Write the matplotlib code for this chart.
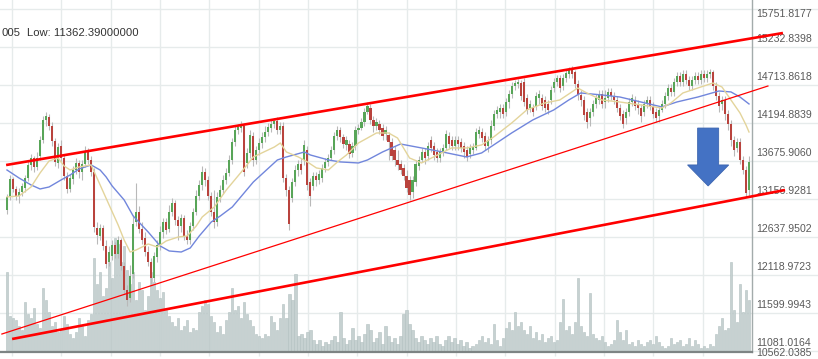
import matplotlib
matplotlib.use("Agg")
import matplotlib.pyplot as plt
import matplotlib.patches as mpatches
from matplotlib.transforms import blended_transform_factory, offset_copy
import numpy as np

# daily candles
opens = [13007, 13185, 13430, 13294, 13198, 13253, 13308, 13444, 13622, 13717,
         13594, 13745, 13963, 14236, 14277, 14154, 13949, 13649, 13881, 13717,
         13471, 13294, 13430, 13553, 13649, 13526, 13635, 13813, 13690, 13526,
         12761, 12652, 12761, 12515, 12297, 12379, 12529, 12406, 12597, 12242,
         11914, 11805, 12133, 12843, 12980, 12747, 12624, 12433, 12297, 12078,
         12365, 12529, 12706, 12843, 12747, 12980, 13103, 12870, 12788, 12898,
         12652, 12597, 12788, 12980, 13198, 13349, 13526, 13417, 13198, 12980,
         12843, 13185, 13280, 13417, 13512, 13690, 13936, 14100, 14127, 14154,
         13649, 13786, 14018, 13690, 13826, 13922, 14004, 14072, 14127, 14182,
         14222, 14100, 14154, 13444, 13280, 13171, 13389, 13553, 13635, 13690,
         13826, 13389, 13335, 13471, 13417, 13444, 13581, 13663, 13717, 13826,
         14018, 14100, 14004, 13895, 13908, 13786, 13881, 14100, 14127, 14209,
         14345, 14400, 14236, 14154, 14182, 14127, 14045, 14031, 13936, 13826,
         13690, 13635, 13581, 13471, 13417, 13253, 13389, 13608, 13690, 13799,
         13745, 13963, 13881, 13799, 13717, 13799, 13854, 14018, 13963, 13881,
         13963, 13936, 13881, 13826, 13772, 13826, 13854, 14045, 14072, 14018,
         13881, 13963, 14154, 14318, 14345, 14400, 14345, 14482, 14591, 14700,
         14728, 14741, 14755, 14537, 14400, 14414, 14427, 14537, 14537, 14509,
         14455, 14509, 14673, 14755, 14810, 14700, 14810, 14864, 14919, 14891,
         14728, 14578, 14509, 14345, 14263, 14345, 14455, 14509, 14591, 14482,
         14537, 14619, 14564, 14509, 14400, 14318, 14263, 14345, 14482, 14509,
         14455, 14400, 14345, 14455, 14509, 14427, 14345, 14291, 14373, 14455,
         14564, 14673, 14619, 14755, 14837, 14755, 14864, 14782, 14700, 14782,
         14837, 14782, 14864, 14810, 14864, 14891, 14700, 14564, 14455, 14509,
         14318, 14182, 13963, 13854, 13936, 13690, 13553, 13280]
highs = [13226, 13485, 13458, 13335, 13308, 13376, 13485, 13690, 13772, 13745,
         13799, 14018, 14291, 14345, 14318, 14209, 13990, 13922, 13963, 13758,
         13526, 13499, 13608, 13717, 13690, 13690, 13881, 13854, 13745, 13581,
         12843, 12816, 12802, 12597, 12515, 12597, 12570, 12652, 12624, 12297,
         11983, 12256, 12939, 13376, 13062, 12843, 12706, 12515, 12352, 12433,
         12597, 12788, 12898, 12898, 13075, 13171, 13144, 12925, 12952, 12939,
         12734, 12843, 13034, 13280, 13417, 13608, 13581, 13471, 13253, 13280,
         13253, 13349, 13485, 13581, 13758, 13990, 14154, 14182, 14222, 14195,
         13854, 14100, 14072, 13881, 13990, 14072, 14154, 14195, 14236, 14263,
         14277, 14209, 14209, 13499, 13335, 13444, 13622, 13690, 13717, 13963,
         13881, 13444, 13526, 13526, 13553, 13635, 13717, 13772, 13881, 14072,
         14154, 14141, 14045, 14018, 13963, 13936, 14154, 14182, 14263, 14400,
         14482, 14455, 14291, 14263, 14236, 14182, 14154, 14072, 13990, 13881,
         13826, 13690, 13635, 13553, 13471, 13471, 13690, 13745, 13854, 13854,
         13936, 14018, 13936, 13854, 13854, 13908, 14100, 14072, 14018, 14018,
         14018, 13990, 13936, 13881, 13908, 13922, 14127, 14154, 14127, 14072,
         14018, 14236, 14373, 14427, 14455, 14455, 14537, 14646, 14755, 14782,
         14796, 14782, 14810, 14591, 14509, 14455, 14619, 14646, 14591, 14564,
         14509, 14700, 14810, 14851, 14851, 14864, 14919, 14960, 14973, 14919,
         14782, 14646, 14564, 14400, 14400, 14509, 14591, 14646, 14646, 14646,
         14673, 14673, 14619, 14564, 14455, 14373, 14400, 14537, 14591, 14564,
         14509, 14455, 14509, 14564, 14564, 14482, 14400, 14427, 14509, 14619,
         14728, 14728, 14810, 14891, 14891, 14919, 14919, 14837, 14837, 14891,
         14891, 14919, 14919, 14919, 14932, 14919, 14755, 14619, 14564, 14564,
         14373, 14236, 14018, 13990, 13990, 13745, 13608, 13745]
lows = [12952, 13144, 13253, 13144, 13103, 13198, 13253, 13403, 13553, 13526,
        13553, 13690, 13922, 14154, 14100, 13881, 13608, 13581, 13663, 13417,
        13239, 13253, 13362, 13499, 13444, 13417, 13594, 13635, 13471, 12706,
        12543, 12597, 12461, 12215, 12242, 12324, 12352, 12352, 12188, 11860,
        11696, 11751, 12078, 12788, 12693, 12543, 12379, 12242, 11996, 12024,
        12297, 12461, 12624, 12679, 12706, 12925, 12802, 12597, 12706, 12597,
        12543, 12543, 12734, 12939, 13144, 13280, 13335, 13144, 12925, 12761,
        12788, 13116, 13226, 13362, 13471, 13635, 13881, 14045, 14072, 13471,
        13581, 13717, 13608, 13635, 13758, 13854, 13936, 14018, 14072, 14127,
        14045, 14045, 13389, 13198, 12734, 13116, 13335, 13471, 13499, 13622,
        13280, 13062, 13280, 13335, 13362, 13389, 13526, 13608, 13690, 13772,
        13963, 13936, 13854, 13826, 13717, 13731, 13826, 14045, 14100, 14154,
        14318, 14182, 14072, 14100, 14045, 13963, 13963, 13690, 13690, 13608,
        13553, 13499, 13417, 13253, 13144, 13171, 13335, 13553, 13663, 13635,
        13690, 13799, 13690, 13663, 13663, 13745, 13826, 13854, 13826, 13826,
        13826, 13799, 13717, 13676, 13717, 13772, 13826, 13990, 13936, 13826,
        13799, 13908, 14100, 14263, 14263, 14263, 14291, 14400, 14537, 14646,
        14673, 14509, 14427, 14318, 14345, 14291, 14373, 14455, 14373, 14345,
        14318, 14455, 14619, 14700, 14619, 14646, 14755, 14810, 14810, 14673,
        14509, 14427, 14236, 14127, 14154, 14291, 14400, 14455, 14400, 14400,
        14482, 14509, 14455, 14345, 14236, 14127, 14182, 14291, 14427, 14373,
        14318, 14209, 14291, 14400, 14373, 14263, 14209, 14209, 14345, 14400,
        14509, 14564, 14564, 14700, 14700, 14700, 14728, 14646, 14646, 14728,
        14728, 14728, 14755, 14755, 14810, 14646, 14509, 14345, 14373, 14236,
        14100, 13881, 13745, 13799, 13635, 13499, 13185, 13198]
closes = [13185, 13430, 13294, 13198, 13253, 13335, 13444, 13622, 13717, 13594,
          13717, 13963, 14236, 14291, 14154, 13949, 13663, 13867, 13717, 13471,
          13294, 13444, 13553, 13649, 13526, 13635, 13813, 13690, 13526, 12775,
          12666, 12761, 12515, 12270, 12433, 12529, 12406, 12597, 12242, 11914,
          11778, 12106, 12816, 12980, 12747, 12597, 12433, 12297, 12078, 12379,
          12529, 12706, 12843, 12734, 12980, 13103, 12870, 12788, 12898, 12652,
          12597, 12788, 12980, 13198, 13349, 13526, 13417, 13198, 12980, 12843,
          13185, 13280, 13417, 13512, 13690, 13936, 14100, 14141, 14182, 13526,
          13786, 14031, 13690, 13826, 13922, 14004, 14072, 14141, 14182, 14222,
          14100, 14154, 13444, 13280, 12816, 13389, 13553, 13635, 13553, 13895,
          13349, 13198, 13471, 13417, 13499, 13581, 13663, 13717, 13826, 14018,
          14100, 14004, 13908, 13963, 13772, 13881, 14100, 14127, 14209, 14345,
          14427, 14236, 14154, 14209, 14100, 14018, 14100, 13936, 13745, 13690,
          13622, 13553, 13471, 13308, 13212, 13417, 13635, 13690, 13799, 13717,
          13881, 13854, 13758, 13717, 13799, 13854, 14045, 13908, 13881, 13963,
          13908, 13854, 13799, 13731, 13854, 13867, 14072, 14100, 13990, 13881,
          13963, 14154, 14318, 14373, 14400, 14318, 14482, 14591, 14700, 14741,
          14755, 14564, 14482, 14373, 14455, 14345, 14564, 14591, 14427, 14400,
          14373, 14646, 14755, 14810, 14673, 14810, 14878, 14919, 14864, 14728,
          14578, 14509, 14304, 14209, 14345, 14455, 14537, 14591, 14455, 14537,
          14619, 14564, 14509, 14400, 14291, 14182, 14345, 14482, 14537, 14427,
          14400, 14291, 14455, 14509, 14427, 14318, 14263, 14373, 14455, 14564,
          14673, 14619, 14755, 14837, 14755, 14864, 14782, 14700, 14782, 14837,
          14782, 14864, 14810, 14864, 14891, 14700, 14564, 14427, 14509, 14318,
          14182, 13963, 13826, 13936, 13690, 13553, 13239, 13663]
volume = [80, 36, 34, 32, 26, 22, 50, 38, 34, 44,
          28, 24, 64, 52, 40, 26, 30, 20, 22, 36,
          28, 18, 14, 20, 34, 26, 16, 32, 38, 94,
          68, 80, 56, 64, 90, 74, 114, 108, 90, 106,
          82, 68, 80, 52, 70, 62, 42, 56, 80, 70,
          62, 54, 60, 42, 36, 30, 26, 34, 22, 26,
          32, 20, 24, 22, 40, 46, 52, 48, 36, 30,
          20, 26, 18, 32, 40, 64, 42, 46, 34, 50,
          38, 32, 26, 18, 16, 14, 18, 16, 36, 30,
          22, 34, 48, 34, 58, 52, 78, 16, 18, 14,
          20, 22, 12, 8, 12, 6, 10, 8, 12, 16,
          10, 40, 14, 8, 12, 24, 12, 16, 10, 18,
          28, 22, 10, 14, 20, 8, 26, 16, 10, 14,
          8, 16, 38, 42, 28, 22, 14, 10, 16, 12,
          8, 14, 10, 16, 8, 6, 12, 16, 10, 14,
          8, 12, 6, 10, 4, 6, 8, 12, 16, 10,
          14, 8, 28, 12, 6, 14, 24, 30, 22, 40,
          26, 30, 22, 18, 26, 14, 20, 12, 18, 10,
          14, 16, 10, 12, 30, 53, 22, 26, 18, 30,
          74, 26, 20, 16, 59, 18, 14, 12, 16, 10,
          6, 8, 12, 32, 20, 12, 22, 8, 10, 6,
          12, 8, 6, 10, 12, 8, 16, 10, 6, 4,
          6, 14, 8, 10, 12, 6, 8, 14, 6, 12,
          8, 4, 6, 4, 8, 6, 18, 26, 34, 22,
          24, 90, 42, 30, 68, 40, 62, 52]

# moving averages as drawn (candle index, price)
slow_idx = [0, 4, 8, 11, 14, 18, 21, 24, 28, 31, 33, 35, 39, 42, 47, 51, 54, 58, 61, 64,
            68, 71, 75, 82, 90, 93, 99, 101, 107, 111, 117, 120, 125, 131, 138, 145, 153,
            158, 162, 168, 175, 182, 187, 191, 198, 204, 211, 218, 223, 230, 237, 241, 244, 247]
slow_ma = [13553, 13444, 13349, 13294, 13321, 13417, 13485, 13567, 13622, 13553, 13458,
           13335, 13144, 12925, 12706, 12515, 12447, 12433, 12488, 12652, 12843, 12925,
           13048, 13389, 13690, 13731, 13799, 13758, 13690, 13663, 13649, 13690, 13799,
           13908, 13854, 13799, 13731, 13786, 13895, 14059, 14236, 14373, 14509, 14605,
           14578, 14550, 14482, 14414, 14482, 14550, 14632, 14619, 14550, 14455]
fast_idx = [0, 4, 8, 11, 14, 17, 19, 21, 24, 28, 31, 34, 37, 39, 41, 43, 47, 50, 53, 57,
            60, 63, 65, 69, 73, 78, 82, 89, 91, 93, 97, 100, 103, 107, 110, 113, 117, 120,
            123, 127, 130, 131, 134, 138, 142, 148, 153, 158, 162, 168, 173, 179, 184, 190,
            193, 198, 204, 211, 218, 221, 225, 231, 235, 238, 241, 244, 246, 247]
fast_ma = [13185, 13198, 13321, 13512, 13676, 13717, 13608, 13553, 13594, 13622, 13349,
           13075, 12802, 12597, 12433, 12461, 12543, 12502, 12584, 12638, 12652, 12788,
           12912, 13048, 13280, 13526, 13731, 13867, 13922, 13799, 13731, 13663, 13581,
           13553, 13663, 13758, 13922, 13990, 14059, 14059, 13990, 13922, 13717, 13649,
           13731, 13854, 13854, 13895, 14004, 14195, 14373, 14468, 14509, 14673, 14605,
           14509, 14482, 14441, 14400, 14468, 14605, 14687, 14741, 14687, 14509, 14332,
           14168, 14072]

price_ticks = [11081.0164, 11599.9943, 12118.9723, 12637.9502, 13156.9281,
               13675.9060, 14194.8839, 14713.8618, 15232.8398]
top_tick = 15751.8177
cut_tick = "10562.0385"

# hand drawn trend lines (candle index, price)
upper_x, upper_y = [-0.3, 258.3], [13621, 15424]
channel_x, channel_y = [-1.7, 253.3], [11313, 14700]
support_x, support_y = [1.7, 259.0], [11245, 13280]

arrow_x, arrow_top, arrow_tip = 233.4, 14126, 13335

info_prefix = "005"
info_text = "Low: 11362.39000000"

opens, highs, lows, closes = map(np.array, (opens, highs, lows, closes))
volume = np.array(volume)
n = len(closes)
x = np.arange(n)

W, H = 818, 359
fig = plt.figure(figsize=(W / 100, H / 100), dpi=100)
rect = [0, 7 / H, 752 / W, 352 / H]
ax_vol = fig.add_axes(rect)
ax = fig.add_axes(rect)
ax.patch.set_visible(False)

xlim = (-2.33, 248.0)
ylim = (11067.4, 15874.7)
for a in (ax, ax_vol):
    a.set_xlim(*xlim)
    for s in a.spines.values():
        s.set_visible(False)
ax.set_ylim(*ylim)
ax_vol.set_ylim(0, 352)

grid_c = "#e6ebeb"
vgrid = 1.66 + 16.42 * np.arange(15)
for g in vgrid:
    ax_vol.axvline(g, color=grid_c, lw=1.0, zorder=0)
for p in price_ticks + [top_tick]:
    ax_vol.plot([-3, 290], [p, p], color=grid_c, lw=1.0, zorder=0,
                transform=ax.transData, clip_on=False)

# volume
ax_vol.bar(x, volume, width=0.75, color="#c6d1d1", edgecolor="#b2c0c0", lw=0.4, zorder=1)

# candles
up = closes >= opens
ax.vlines(x, lows, highs, color="#b9b9b9", lw=0.8, zorder=2)
body = np.maximum(np.abs(closes - opens), 8)
ax.bar(x[up], body[up], bottom=opens[up], width=0.7, color="#58a558", lw=0, zorder=3)
ax.bar(x[~up], body[~up], bottom=closes[~up], width=0.7, color="#b9433d", lw=0, zorder=3)

ax.plot(slow_idx, slow_ma, color="#7186dc", lw=1.0, zorder=4)
ax.plot(fast_idx, fast_ma, color="#e3d49b", lw=1.0, zorder=4)

ax.plot(upper_x, upper_y, color="#ff0000", lw=1.9, zorder=5, clip_on=False, solid_capstyle="butt")
ax.plot(channel_x, channel_y, color="#ff0000", lw=0.9, zorder=5, clip_on=False)
ax.plot(support_x, support_y, color="#ff0000", lw=1.9, zorder=5, clip_on=False, solid_capstyle="butt")

arrow = mpatches.FancyArrow(arrow_x, arrow_top, 0, arrow_tip - arrow_top, width=7.0,
                            head_width=13.7, head_length=287, length_includes_head=True,
                            facecolor="#4472c4", edgecolor="#3c65b0", lw=0.6, zorder=6)
ax.add_patch(arrow)

# axes frame
ax.spines["right"].set_visible(True)
ax.spines["right"].set_color("#a3abab")
ax.spines["right"].set_linewidth(1.0)
ax.spines["bottom"].set_visible(True)
ax.spines["bottom"].set_color("#7d8484")
ax.spines["bottom"].set_linewidth(1.6)
ax.set_xticks(vgrid)
ax.set_xticklabels([])
ax.tick_params(axis="x", length=3, color=grid_c, width=1)
ax.set_yticks([])
ax_vol.set_xticks([])
ax_vol.set_yticks([])

# price labels sit just above their grid lines
lab_font = dict(family="Liberation Sans", fontsize=7.6, color="#5a5a5a", ha="left")
tr = blended_transform_factory(ax.transAxes, ax.transData)
tr_lab = offset_copy(tr, fig=fig, x=4, y=8, units="dots")
for p in price_ticks:
    ax.text(1.0, p, f"{p:.4f}", transform=tr_lab, clip_on=False, va="center", **lab_font)
fig.text(756 / W, 1 - 14 / H, f"{top_tick:.4f}", va="center", **lab_font)
fig.text(756 / W, 0.002, cut_tick, va="bottom", **lab_font)

info_font = dict(family="Liberation Sans", fontsize=8.1, color="#333333", va="center")
fig.text(20 / W, 1 - 33 / H, info_prefix, ha="right", **info_font)
fig.text(27 / W, 1 - 33 / H, info_text, ha="left", **info_font)

fig.savefig("out.png", dpi=100, facecolor="white")
